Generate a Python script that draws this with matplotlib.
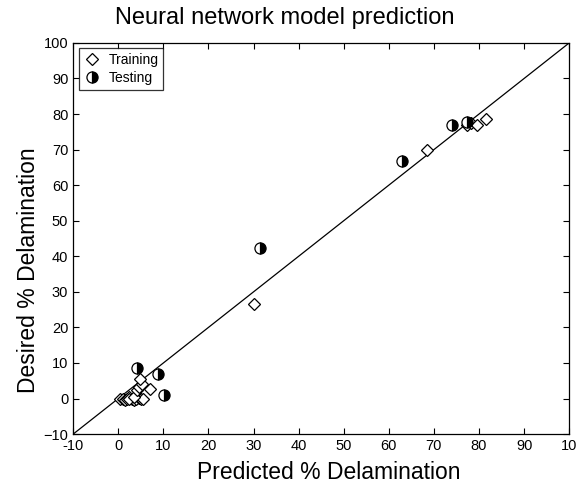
import matplotlib
matplotlib.use("Agg")
import matplotlib.pyplot as plt
from matplotlib.lines import Line2D

plt.rcParams['font.family'] = ['Liberation Sans', 'DejaVu Sans']

# Training data (predicted, desired)
train_pred = [0.5, 1.0, 1.5, 2.0, 2.5, 3.0, 3.5, 4.0, 4.5, 5.0, 5.5, 2.5, 3.5,
              4.1, 4.7, 5.3, 4.9, 7.1, 30.0, 68.5, 77.3, 78.2, 79.6, 81.6]
train_des = [0.0, 0.0, -0.3, 0.0, 0.3, 0.0, -0.3, 0.0, 0.2, 0.0, -0.2, 0.0, 0.5,
             2.3, 3.3, 4.2, 5.6, 2.8, 26.5, 69.9, 77.0, 77.5, 77.0, 78.7]

# Testing data
test_pred = [4.1, 8.9, 10.2, 31.5, 62.9, 74.0, 77.3]
test_des = [8.5, 7.0, 0.9, 42.4, 66.8, 76.8, 77.7]

line_x = [-10, 100]
xticks = [-10, 0, 10, 20, 30, 40, 50, 60, 70, 80, 90, 100]
xticklabels = ['-10', '0', '10', '20', '30', '40', '50', '60', '70', '80', '90', '10']
yticks = [-10, 0, 10, 20, 30, 40, 50, 60, 70, 80, 90, 100]

fig = plt.figure(figsize=(5.85, 4.99), dpi=100)
ax = fig.add_axes([0.125, 0.130, 0.848, 0.784])

ax.plot(line_x, line_x, color='black', lw=0.9, zorder=1)
ax.plot(train_pred, train_des, linestyle='none', marker='D', markersize=6.5,
        markerfacecolor='white', markeredgecolor='black', markeredgewidth=0.9, zorder=2)
ax.plot(test_pred, test_des, linestyle='none', marker='o', markersize=8,
        fillstyle='right', markerfacecolor='black', markerfacecoloralt='white',
        markeredgecolor='black', markeredgewidth=0.9, zorder=3)

ax.set_xlim(-10, 100)
ax.set_ylim(-10, 100)
ax.set_xticks(xticks)
ax.set_xticklabels(xticklabels)
ax.set_yticks(yticks)
ax.tick_params(direction='in', top=True, right=True, labelsize=10.5, length=4.5, width=0.8)
for s in ax.spines.values():
    s.set_linewidth(0.9)

fig.text(0.487, 1 - 18 / 499, 'Neural network model prediction', fontsize=17,
         ha='center', va='center')
ax.set_xlabel('Predicted % Delamination', fontsize=16.5)
ax.xaxis.set_label_coords(0.516, -0.068)
ax.set_ylabel('Desired % Delamination', fontsize=16.5)
ax.yaxis.set_label_coords(-0.067, 0.42)

handles = [
    Line2D([], [], linestyle='none', marker='D', markersize=6.5, markerfacecolor='white',
           markeredgecolor='black', markeredgewidth=0.9),
    Line2D([], [], linestyle='none', marker='o', markersize=8, fillstyle='right',
           markerfacecolor='black', markerfacecoloralt='white', markeredgecolor='black',
           markeredgewidth=0.9),
]
leg = ax.legend(handles, ['Training', 'Testing'], loc='upper left', fontsize=10,
                frameon=True, fancybox=False, edgecolor='black', borderpad=0.35,
                handlelength=1.2, handletextpad=0.6, labelspacing=0.25, borderaxespad=0.4)
leg.get_frame().set_linewidth(0.9)

fig.savefig('out.png', dpi=100)
